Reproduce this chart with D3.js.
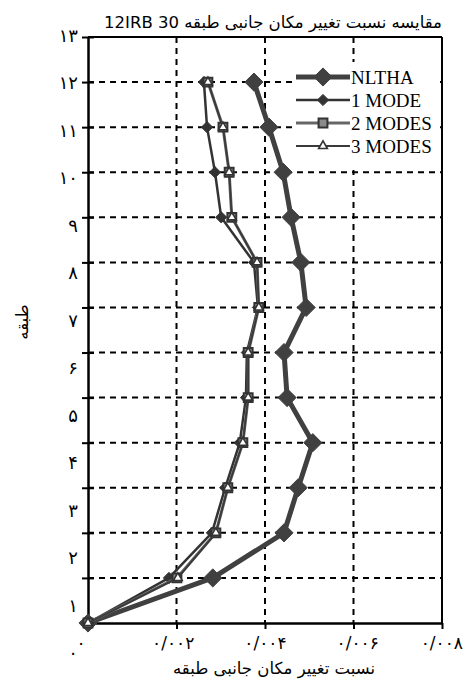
<!DOCTYPE html>
<html>
<head>
<meta charset="utf-8">
<script src="https://cdn.jsdelivr.net/npm/d3@7"></script>
<style>
  html, body { margin: 0; padding: 0; background: #fff; }
  svg { display: block; }
</style>
</head>
<body>
<svg id="chart" width="464" height="684"></svg>
<script>
// ---------- data ----------
const floors = [0, 1, 2, 3, 4, 5, 6, 7, 8, 9, 10, 11, 12];
const nltha  = [0, 0.00282, 0.00443, 0.00475, 0.00508, 0.00450, 0.00443, 0.00493, 0.00481, 0.00459, 0.00441, 0.00409, 0.00375];
const mode1  = [0, 0.00183, 0.00280, 0.00310, 0.00343, 0.00357, 0.00359, 0.00384, 0.00375, 0.00301, 0.00287, 0.00269, 0.00262];
const modes2 = [0, 0.00201, 0.00289, 0.00316, 0.00350, 0.00362, 0.00362, 0.00386, 0.00382, 0.00325, 0.00319, 0.00305, 0.00271];
const modes3 = [0, 0.00203, 0.00289, 0.00316, 0.00350, 0.00362, 0.00362, 0.00386, 0.00382, 0.00325, 0.00319, 0.00305, 0.00271];
const seriesNames = ["NLTHA", "1 MODE", "2 MODES", "3 MODES"];
const yTickValues = [0, 1, 2, 3, 4, 5, 6, 7, 8, 9, 10, 11, 12, 13];
const yTickLabels = ["۰", "۱", "۲", "۳", "۴", "۵", "۶", "۷", "۸", "۹", "۱۰", "۱۱", "۱۲", "۱۳"];
const xTickValues = [0, 0.002, 0.004, 0.006, 0.008];
const xTickLabels = ["۰", "۰/۰۰۲", "۰/۰۰۴", "۰/۰۰۶", "۰/۰۰۸"];
const titleText = "مقایسه نسبت تغییر مکان جانبی طبقه 30 12IRB";
const xTitleText = "نسبت تغییر مکان جانبی طبقه";
const yTitleText = "طبقه";

// ---------- layout ----------
const W = 464;
const svg = d3.select("#chart");
const L = 88, R = 442, T = 37, B = 623;
const x = d3.scaleLinear().domain([0, 0.008]).range([L, R]);
const y = d3.scaleLinear().domain([0, 13]).range([B, T]);
// label positions in the reference drift slightly from the ticks
const xLab = d3.scaleLinear().domain([0, 0.008]).range([81, 450]);
const yLab = d3.scaleLinear().domain([0, 13]).range([B + 31, T]);

const persianFont = "'DejaVu Sans', 'Noto Sans', sans-serif";
const latinFont = "'Liberation Serif', 'DejaVu Serif', serif";

// gridlines
const grid = svg.append("g").attr("stroke", "#000").attr("stroke-width", 2)
  .attr("stroke-dasharray", "6,5");
grid.selectAll("line.h").data(d3.range(1, 13)).join("line")
  .attr("x1", L).attr("x2", R).attr("y1", d => y(d)).attr("y2", d => y(d));
grid.selectAll("line.v").data([0.002, 0.004, 0.006]).join("line")
  .attr("x1", d => x(d)).attr("x2", d => x(d)).attr("y1", T).attr("y2", B);

// frame
svg.append("line").attr("x1", L).attr("x2", R).attr("y1", T).attr("y2", T)
  .attr("stroke", "#000").attr("stroke-width", 2);
svg.append("line").attr("x1", R).attr("x2", R).attr("y1", T).attr("y2", B)
  .attr("stroke", "#000").attr("stroke-width", 2);

// axes
const yAxis = svg.append("g").attr("transform", `translate(${L},0)`)
  .call(d3.axisLeft(y).tickValues(yTickValues).tickSize(6).tickSizeOuter(0).tickFormat(""));
const xAxis = svg.append("g").attr("transform", `translate(0,${B})`)
  .call(d3.axisBottom(x).tickValues(xTickValues.slice(1)).tickSize(6).tickSizeOuter(0).tickFormat(""));
[yAxis, xAxis].forEach(a => {
  a.selectAll("path.domain").attr("stroke", "#000").attr("stroke-width", 2.5);
  a.selectAll(".tick line").attr("stroke", "#000").attr("stroke-width", 2);
});
// inner part of y ticks
yAxis.selectAll(".tick").append("line").attr("x1", 0).attr("x2", 6)
  .attr("stroke", "#000").attr("stroke-width", 2);

// tick labels
svg.append("g").selectAll("text").data(yTickValues).join("text")
  .attr("x", 78).attr("y", d => yLab(d))
  .attr("text-anchor", "end").attr("dominant-baseline", "middle")
  .attr("font-family", persianFont).attr("font-size", 18).attr("fill", "#000")
  .text((d, i) => yTickLabels[i]);
svg.append("g").selectAll("text").data(xTickValues).join("text")
  .attr("y", 649)
  .attr("text-anchor", "middle").attr("direction", "ltr")
  .attr("font-family", persianFont).attr("font-size", 17).attr("letter-spacing", 1)
  .attr("fill", "#000")
  .text((d, i) => xTickLabels[i])
  .attr("x", function(d) {
    const half = this.getComputedTextLength() / 2;
    return Math.min(xLab(d), W - half - 1);
  });

// titles
svg.append("text").attr("x", 273).attr("y", 28).attr("text-anchor", "middle")
  .attr("direction", "rtl").attr("font-family", persianFont).attr("font-size", 16.5)
  .attr("fill", "#000").text(titleText);
svg.append("text").attr("x", 274).attr("y", 674).attr("text-anchor", "middle")
  .attr("direction", "rtl").attr("font-family", persianFont).attr("font-size", 16.5)
  .attr("fill", "#000").text(xTitleText);
svg.append("text").attr("transform", "translate(28,322) rotate(-90)")
  .attr("text-anchor", "middle").attr("direction", "rtl")
  .attr("font-family", persianFont).attr("font-size", 16.5).attr("fill", "#000")
  .text(yTitleText);

// ---------- series ----------
const symDiamondBig = d3.symbol().type(d3.symbolDiamond2).size(210)();
const symDiamondSmall = d3.symbol().type(d3.symbolDiamond2).size(80)();
const symSquare = d3.symbol().type(d3.symbolSquare2).size(100)();
const symTriangle = d3.symbol().type(d3.symbolTriangle2).size(55)();

const styles = [
  { values: nltha,  line: "#404040", lw: 5,   sym: symDiamondBig,   fill: "#404040", stroke: "#404040", sw: 1 },
  { values: mode1,  line: "#333333", lw: 2.5, sym: symDiamondSmall, fill: "#333333", stroke: "#333333", sw: 1 },
  { values: modes2, line: "#666666", lw: 3,   sym: symSquare,       fill: "#8a8a8a", stroke: "#333333", sw: 2 },
  { values: modes3, line: "#3a3a3a", lw: 1.8, sym: symTriangle,     fill: "#ffffff", stroke: "#333333", sw: 1.6 }
];

const lineGen = d3.line().x(d => x(d[0])).y(d => y(d[1]));
styles.forEach(s => {
  const pts = floors.map((f, i) => [s.values[i], f]);
  const g = svg.append("g");
  g.append("path").datum(pts).attr("d", lineGen)
    .attr("fill", "none").attr("stroke", s.line).attr("stroke-width", s.lw)
    .attr("stroke-linejoin", "round");
  g.selectAll("path.m").data(pts).join("path").attr("class", "m")
    .attr("d", s.sym)
    .attr("transform", d => `translate(${x(d[0])},${y(d[1])})`)
    .attr("fill", s.fill).attr("stroke", s.stroke).attr("stroke-width", s.sw);
});

// ---------- legend ----------
const leg = svg.append("g");
leg.append("rect").attr("x", 292).attr("y", 62).attr("width", 148).attr("height", 108)
  .attr("fill", "#fff");
const legY = d3.scalePoint().domain(seriesNames).range([77, 146]);
seriesNames.forEach((name, i) => {
  const s = styles[i];
  const yy = legY(name);
  leg.append("line").attr("x1", 296).attr("x2", 350).attr("y1", yy).attr("y2", yy)
    .attr("stroke", s.line).attr("stroke-width", s.lw);
  leg.append("path").attr("d", s.sym).attr("transform", `translate(323,${yy})`)
    .attr("fill", s.fill).attr("stroke", s.stroke).attr("stroke-width", s.sw);
  leg.append("text").attr("x", 351).attr("y", yy + 6.5)
    .attr("font-family", latinFont).attr("font-size", 19).attr("fill", "#000")
    .text(name);
});
</script>
</body>
</html>
